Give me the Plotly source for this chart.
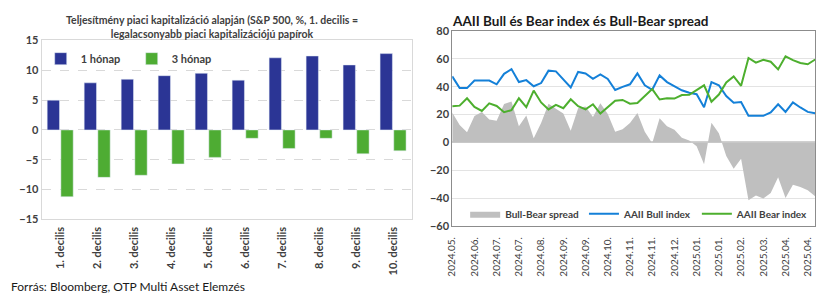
import plotly.graph_objects as go

W, H = 833, 301

# ---------------- Left chart data ----------------
deciles = ["1. decilis", "2. decilis", "3. decilis", "4. decilis", "5. decilis",
           "6. decilis", "7. decilis", "8. decilis", "9. decilis", "10. decilis"]
one_month = [5.0, 7.9, 8.5, 9.1, 9.5, 8.35, 12.1, 12.4, 10.9, 12.8]
three_month = [-11.2, -7.95, -7.6, -5.7, -4.6, -1.4, -3.1, -1.4, -4.0, -3.5]

# ---------------- Right chart data ----------------
week_index = list(range(50))
tick_positions = list(range(0, 50, 3))
tick_labels = ["2024.05.", "2024.06.", "2024.07.", "2024.07.", "2024.08.", "2024.09.",
               "2024.09.", "2024.10.", "2024.11.", "2024.11.", "2024.12.", "2025.01.",
               "2025.01.", "2025.02.", "2025.03.", "2025.04.", "2025.04."]
bull = [47.4, 39.0, 39.0, 44.4, 44.4, 44.4, 41.7, 49.2, 52.6, 43.3,
        44.7, 40.3, 42.6, 51.5, 51.0, 45.4, 39.4, 50.6, 49.5, 45.6,
        48.8, 45.6, 37.6, 39.9, 41.7, 49.5, 41.0, 37.8, 48.1, 43.3,
        40.6, 37.4, 35.6, 34.6, 25.3, 43.3, 41.0, 33.3, 28.5, 29.0,
        19.1, 19.1, 19.1, 21.6, 27.4, 21.9, 28.7, 25.1, 21.9, 21.0]
bear = [26.0, 26.4, 31.7, 25.5, 22.6, 28.0, 26.2, 21.7, 23.2, 31.7,
        25.3, 37.2, 28.7, 23.7, 26.9, 24.6, 31.0, 26.0, 23.7, 27.4,
        20.7, 25.1, 29.9, 30.5, 27.8, 28.3, 33.3, 38.3, 30.8, 31.7,
        31.5, 34.0, 34.2, 37.4, 41.0, 29.2, 34.4, 43.1, 47.4, 40.6,
        60.6, 57.2, 59.3, 57.9, 52.4, 61.8, 59.0, 57.0, 56.1, 59.5]
spread = [21.4, 12.6, 7.3, 18.9, 21.8, 16.4, 15.5, 27.5, 29.4, 11.6,
          19.4, 3.1, 13.9, 27.8, 24.1, 20.8, 8.4, 24.6, 25.8, 18.2,
          28.1, 20.5, 7.7, 9.4, 13.9, 21.2, 7.7, -0.5, 17.3, 11.6,
          9.1, 3.4, 1.4, -2.8, -15.7, 14.1, 6.6, -9.8, -18.9, -11.6,
          -41.5, -38.1, -40.2, -36.3, -25.0, -39.9, -30.3, -31.9, -34.2, -38.5]

FONT = "Lato"
BLUE_BAR = "#2B3595"
GREEN_BAR = "#4EAC33"
BULL_C = "#1480D8"
BEAR_C = "#4DAF2E"
AREA_C = "#BFBFBF"


def px_x(p):
    return p / W


def px_y(p):
    return 1 - p / H


fig = go.Figure()

# Left bars
fig.add_trace(go.Bar(x=deciles, y=one_month, name="1 hónap", marker_color=BLUE_BAR,
                     xaxis="x", yaxis="y", legend="legend"))
fig.add_trace(go.Bar(x=deciles, y=three_month, name="3 hónap", marker_color=GREEN_BAR,
                     xaxis="x", yaxis="y", legend="legend"))

# Right chart
fig.add_trace(go.Scatter(x=week_index, y=spread, name="Bull-Bear spread", mode="lines",
                         line=dict(width=0, color=AREA_C), fill="tozeroy",
                         fillcolor=AREA_C, xaxis="x2", yaxis="y2", legend="legend2"))
fig.add_trace(go.Scatter(x=week_index, y=bull, name="AAII Bull index", mode="lines",
                         line=dict(width=2, color=BULL_C), xaxis="x2", yaxis="y2",
                         legend="legend2"))
fig.add_trace(go.Scatter(x=week_index, y=bear, name="AAII Bear index", mode="lines",
                         line=dict(width=2, color=BEAR_C), xaxis="x2", yaxis="y2",
                         legend="legend2"))

fig.update_layout(
    width=W, height=H,
    margin=dict(l=0, r=0, t=0, b=0),
    paper_bgcolor="white", plot_bgcolor="white",
    font=dict(family=FONT, size=11, color="#404040"),
    barmode="group", bargap=0.26, bargroupgap=0.1,
    xaxis=dict(domain=[px_x(35), px_x(408)], anchor="y", type="category",
               tickangle=-90, showgrid=False, ticks="", showline=True, mirror=True,
               linecolor="#D9D9D9", linewidth=1, ticklabelstandoff=2,
               tickfont=dict(family=FONT, size=11, color="#404040", weight="bold")),
    yaxis=dict(domain=[px_y(222), px_y(35)], anchor="x", range=[-15, 15], dtick=5,
               showgrid=True, gridcolor="#D9D9D9", griddash="dash", zeroline=False,
               showline=True, mirror=True, linecolor="#D9D9D9", linewidth=1,
               tickfont=dict(family=FONT, size=11, color="#404040", weight="bold")),
    xaxis2=dict(domain=[px_x(449), px_x(815)], anchor="y2", range=[0, 49],
                tickvals=tick_positions, ticktext=tick_labels, tickangle=-90,
                showgrid=False, zeroline=False, showline=True, mirror=True,
                linecolor="#8C8C8C", linewidth=1, ticks="", ticklabelstandoff=6,
                tickfont=dict(family=FONT, size=10, color="#404040")),
    yaxis2=dict(domain=[px_y(229), px_y(25)], anchor="x2", range=[-60, 80], dtick=20,
                showgrid=True, gridcolor="#E3E3E3", gridwidth=1, zeroline=True,
                zerolinecolor="#D0D0D0", zerolinewidth=1.5,
                showline=True, mirror=True, linecolor="#8C8C8C", linewidth=1,
                tickfont=dict(family=FONT, size=11, color="#404040", weight="bold")),
    legend=dict(orientation="h", x=px_x(34), y=px_y(54), xanchor="left", yanchor="middle",
                bgcolor="rgba(0,0,0,0)", traceorder="normal",
                font=dict(family=FONT, size=11, color="#404040", weight="bold"),
                itemwidth=30, entrywidth=46, entrywidthmode="pixels"),
    legend2=dict(orientation="h", x=px_x(813), y=px_y(216), xanchor="right", yanchor="middle",
                 bgcolor="rgba(0,0,0,0)", traceorder="normal",
                 font=dict(family=FONT, size=10, color="#404040", weight="bold"),
                 itemwidth=30),
    showlegend=True,
)

fig.add_annotation(text="Teljesítmény piaci kapitalizáció alapján (S&P 500, %, 1. decilis =<br>"
                        "legalacsonyabb piaci kapitalizációjú papírok",
                   xref="paper", yref="paper", x=px_x(207), y=px_y(20.5), xanchor="center",
                   yanchor="middle", showarrow=False,
                   font=dict(family=FONT, size=10.5, color="#404040", weight="bold"))
fig.add_annotation(text="AAII Bull és Bear index és Bull-Bear spread",
                   xref="paper", yref="paper", x=px_x(447), y=px_y(15), xanchor="left",
                   yanchor="middle", showarrow=False,
                   font=dict(family=FONT, size=13.5, color="#1A1A1A", weight="bold"))
fig.add_annotation(text="Forrás: Bloomberg, OTP Multi Asset Elemzés",
                   xref="paper", yref="paper", x=px_x(2), y=px_y(292), xanchor="left",
                   yanchor="middle", showarrow=False,
                   font=dict(family=FONT, size=12, color="#1A1A1A"))

fig.write_html("out.html")
